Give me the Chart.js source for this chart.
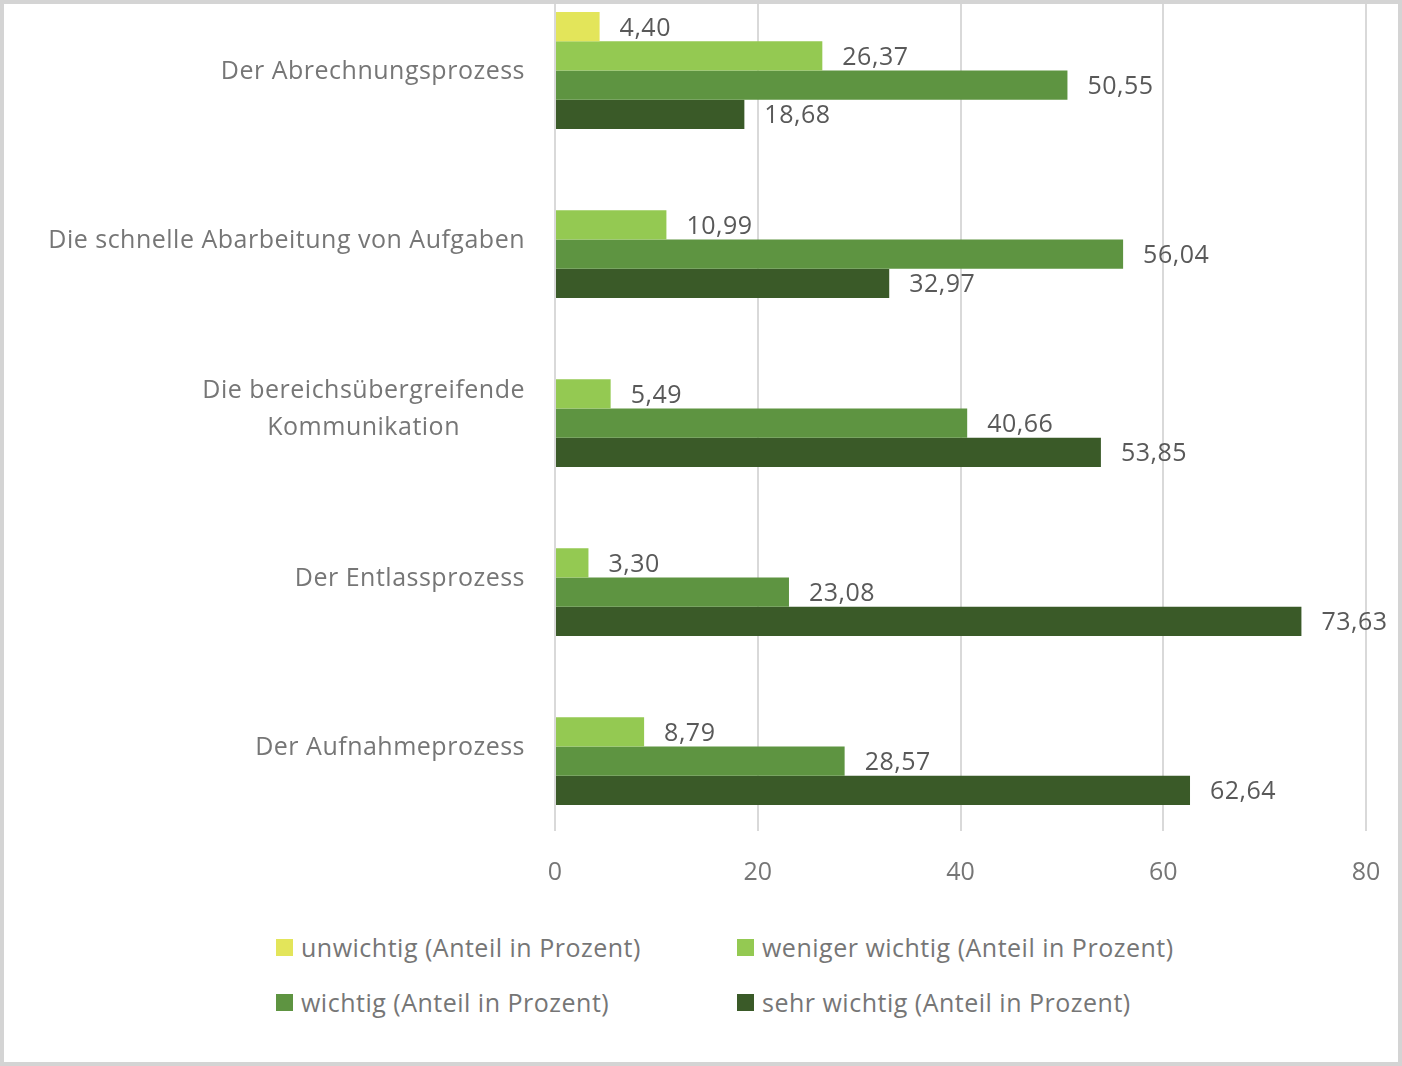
<!DOCTYPE html>
<html lang="de">
<head>
    <meta charset="UTF-8">
    <title>Bewertung der Prozesse</title>
    <script src="https://cdn.jsdelivr.net/npm/chart.js"></script>
    <style>
        * {
            margin: 0;
            padding: 0;
            box-sizing: border-box;
        }

        body {
            background: #ffffff;
            font-family: "Open Sans", sans-serif;
        }

        .frame {
            position: absolute;
            left: 0;
            top: 0;
            width: 1402px;
            height: 1066px;
            border: 4px solid #d4d4d4;
            overflow: hidden;
            background: #ffffff;
        }

        /* canvas starts a bit above the frame, the first category band is cut like in the original */
        .chart-box {
            position: absolute;
            left: 0;
            top: -18px;
            width: 1394px;
            height: 904px;
        }

        .legend-item {
            position: absolute;
            display: flex;
            align-items: center;
            height: 30px;
            font-size: 25px;
            letter-spacing: 0.5px;
            color: #767676;
            white-space: nowrap;
        }

        .legend-box {
            width: 17px;
            height: 17px;
            margin-right: 8px;
        }
    </style>
</head>
<body>

    <div class="frame">
        <div class="chart-box">
            <canvas id="chart"></canvas>
        </div>
        <div id="legend"></div>
    </div>

    <script>
        const categories = [
            'Der Abrechnungsprozess',
            'Die schnelle Abarbeitung von Aufgaben',
            ['Die bereichsübergreifende', 'Kommunikation'],
            'Der Entlassprozess',
            'Der Aufnahmeprozess'
        ];
        const seriesNames = [
            'unwichtig (Anteil in Prozent)',
            'weniger wichtig (Anteil in Prozent)',
            'wichtig (Anteil in Prozent)',
            'sehr wichtig (Anteil in Prozent)'
        ];
        const unwichtig = [4.40, null, null, null, null];
        const wenigerWichtig = [26.37, 10.99, 5.49, 3.30, 8.79];
        const wichtig = [50.55, 56.04, 40.66, 23.08, 28.57];
        const sehrWichtig = [18.68, 32.97, 53.85, 73.63, 62.64];
        const xTicks = [0, 20, 40, 60, 80];

        const colors = ['#e3e55a', '#94c952', '#5e9441', '#3a5a28'];
        const textGrey = '#767676';
        const labelGrey = '#595959';
        const font = { family: '"Open Sans", sans-serif', size: 25 };

        // legend in two fixed columns
        const legendPos = [[276, 932], [737, 932], [276, 987], [737, 987]];
        const legend = document.getElementById('legend');
        seriesNames.forEach((name, i) => {
            const item = document.createElement('div');
            item.className = 'legend-item';
            item.style.left = (legendPos[i][0] - 4) + 'px';
            item.style.top = (legendPos[i][1] - 4) + 'px';
            item.innerHTML = '<span class="legend-box" style="background:' + colors[i] + '"></span>' + name;
            legend.appendChild(item);
        });

        // value labels right of each bar
        const valueLabels = {
            id: 'valueLabels',
            afterDatasetsDraw(chart) {
                const ctx = chart.ctx;
                ctx.save();
                ctx.font = font.size + 'px ' + font.family;
                ctx.letterSpacing = '0.5px';
                ctx.fillStyle = labelGrey;
                ctx.textAlign = 'left';
                ctx.textBaseline = 'middle';
                chart.data.datasets.forEach((ds, i) => {
                    chart.getDatasetMeta(i).data.forEach((bar, j) => {
                        const v = ds.data[j];
                        if (v === null) return;
                        ctx.fillText(v.toFixed(2).replace('.', ','), bar.x + 20, bar.y + 2);
                    });
                });
                ctx.restore();
            }
        };

        // category labels, multi line ones centred on their widest line
        const categoryLabels = {
            id: 'categoryLabels',
            afterDraw(chart) {
                const ctx = chart.ctx;
                const y = chart.scales.y;
                const right = chart.chartArea.left - 30;
                const lineH = 37;
                ctx.save();
                ctx.font = font.size + 'px ' + font.family;
                ctx.letterSpacing = '0.5px';
                ctx.fillStyle = textGrey;
                ctx.textBaseline = 'middle';
                categories.forEach((cat, i) => {
                    const lines = Array.isArray(cat) ? cat : [cat];
                    const cy = y.getPixelForTick(i) + 1;
                    const maxW = Math.max(...lines.map(l => ctx.measureText(l).width));
                    lines.forEach((line, k) => {
                        const ly = cy + (k - (lines.length - 1) / 2) * lineH;
                        if (lines.length > 1) {
                            ctx.textAlign = 'center';
                            ctx.fillText(line, right - maxW / 2, ly);
                        } else {
                            ctx.textAlign = 'right';
                            ctx.fillText(line, right, ly);
                        }
                    });
                });
                ctx.restore();
            }
        };

        new Chart(document.getElementById('chart'), {
            type: 'bar',
            data: {
                labels: categories,
                datasets: [
                    { label: seriesNames[0], data: unwichtig, backgroundColor: colors[0] },
                    { label: seriesNames[1], data: wenigerWichtig, backgroundColor: colors[1] },
                    { label: seriesNames[2], data: wichtig, backgroundColor: colors[2] },
                    { label: seriesNames[3], data: sehrWichtig, backgroundColor: colors[3] }
                ]
            },
            options: {
                indexAxis: 'y',
                responsive: true,
                maintainAspectRatio: false,
                animation: false,
                barPercentage: 1,
                categoryPercentage: 0.692,
                layout: { padding: { left: 0, right: 32, top: 0, bottom: 0 } },
                plugins: {
                    legend: { display: false },
                    tooltip: { enabled: false }
                },
                scales: {
                    x: {
                        min: 0,
                        max: 80,
                        afterBuildTicks: scale => { scale.ticks = xTicks.map(v => ({ value: v })); },
                        afterFit: scale => {
                            scale.height = 59;
                            scale.paddingLeft = 0;
                            scale.paddingRight = 0;
                        },
                        grid: { color: '#d9d9d9', lineWidth: 2, drawTicks: false },
                        border: { display: false },
                        ticks: { font: font, color: textGrey, padding: 27 }
                    },
                    y: {
                        afterFit: scale => { scale.width = 551; },
                        grid: { display: false },
                        border: { display: false },
                        ticks: { display: false }
                    }
                }
            },
            plugins: [valueLabels, categoryLabels]
        });
    </script>

</body>
</html>
